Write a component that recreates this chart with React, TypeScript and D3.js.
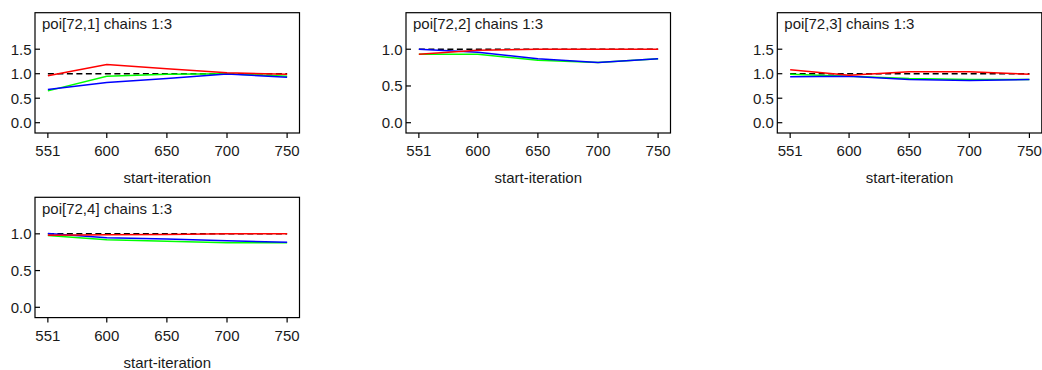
import React from "react";
import * as d3 from "d3";

const iterations = [551, 600, 650, 700, 750];
const xTickValues = [551, 600, 650, 700, 750];
const titles = ["poi[72,1] chains 1:3", "poi[72,2] chains 1:3", "poi[72,3] chains 1:3", "poi[72,4] chains 1:3"];

const green1 = [0.65, 0.95, 0.99, 1.0, 0.95];
const blue1 = [0.68, 0.82, 0.9, 0.995, 0.93];
const red1 = [0.96, 1.19, 1.1, 1.02, 0.99];

const green2 = [0.93, 0.93, 0.85, 0.82, 0.87];
const blue2 = [1.0, 0.96, 0.87, 0.82, 0.87];
const red2 = [0.93, 0.986, 1.0, 1.0, 1.0];

const green3 = [0.99, 0.95, 0.9, 0.88, 0.88];
const blue3 = [0.94, 0.95, 0.88, 0.86, 0.88];
const red3 = [1.08, 0.97, 1.04, 1.04, 0.99];

const green4 = [0.977, 0.92, 0.9, 0.88, 0.88];
const blue4 = [1.005, 0.945, 0.93, 0.905, 0.887];
const red4 = [0.98, 0.986, 0.99, 1.0, 1.0];

const yTicksTall = [0, 0.5, 1, 1.5];
const yTicksShort = [0, 0.5, 1];

const panels = [
  { left: 35, top: 12.7, title: titles[0], green: green1, blue: blue1, red: red1, yDomain: [-0.21, 2.245], yTicks: yTicksTall },
  { left: 406, top: 12.7, title: titles[1], green: green2, blue: blue2, red: red2, yDomain: [-0.14, 1.497], yTicks: yTicksShort },
  { left: 777.3, top: 12.7, title: titles[2], green: green3, blue: blue3, red: red3, yDomain: [-0.21, 2.245], yTicks: yTicksTall },
  { left: 35, top: 197.3, title: titles[3], green: green4, blue: blue4, red: red4, yDomain: [-0.14, 1.497], yTicks: yTicksShort },
];

const W = 264.5;
const H = 120.3;
const FONT = "'Liberation Sans', Arial, sans-serif";
const FS = 15;

function Panel({ p }: { p: any }) {
  const x = d3.scaleLinear().domain([540.3, 760.3]).range([0, W]);
  const y = d3.scaleLinear().domain(p.yDomain).range([H, 0]);
  const line = d3
    .line<number>()
    .x((_, i) => x(iterations[i]))
    .y((d) => y(d));
  const fmt = d3.format(".1f");
  return (
    <g transform={`translate(${p.left},${p.top})`}>
      <line x1={x(551)} x2={x(750)} y1={y(1)} y2={y(1)} stroke="#000" strokeWidth={1.5} strokeDasharray="6,3.5" />
      <path d={line(p.green) || ""} fill="none" stroke="#00ff00" strokeWidth={1.5} />
      <path d={line(p.blue) || ""} fill="none" stroke="#0000ff" strokeWidth={1.5} />
      <path d={line(p.red) || ""} fill="none" stroke="#ff0000" strokeWidth={1.5} />
      <rect x={0} y={0} width={W} height={H} fill="none" stroke="#000" strokeWidth={1.2} />
      {p.yTicks.map((t: number) => (
        <g key={t}>
          <line x1={0} x2={5} y1={y(t)} y2={y(t)} stroke="#000" strokeWidth={1.2} />
          <text x={-3.5} y={y(t)} dy="0.36em" textAnchor="end" fontFamily={FONT} fontSize={FS} fill="#1a1a1a">
            {fmt(t)}
          </text>
        </g>
      ))}
      {xTickValues.map((t) => (
        <g key={t}>
          <line x1={x(t)} x2={x(t)} y1={H} y2={H + 5} stroke="#000" strokeWidth={1.2} />
          <text x={x(t)} y={H + 23} textAnchor="middle" fontFamily={FONT} fontSize={FS} fill="#1a1a1a">
            {t}
          </text>
        </g>
      ))}
      <text x={W / 2} y={H + 50.5} textAnchor="middle" fontFamily={FONT} fontSize={FS} fill="#1a1a1a">
        start-iteration
      </text>
      <text x={7} y={16.6} fontFamily={FONT} fontSize={FS} fill="#1a1a1a">
        {p.title}
      </text>
    </g>
  );
}

export default function App() {
  return (
    <svg
      width={1042}
      height={370}
      style={{ position: "absolute", left: 0, top: 0, display: "block", background: "#fff" }}
    >
      <rect width={1042} height={370} fill="#fff" />
      {panels.map((p, i) => (
        <Panel key={i} p={p} />
      ))}
    </svg>
  );
}
